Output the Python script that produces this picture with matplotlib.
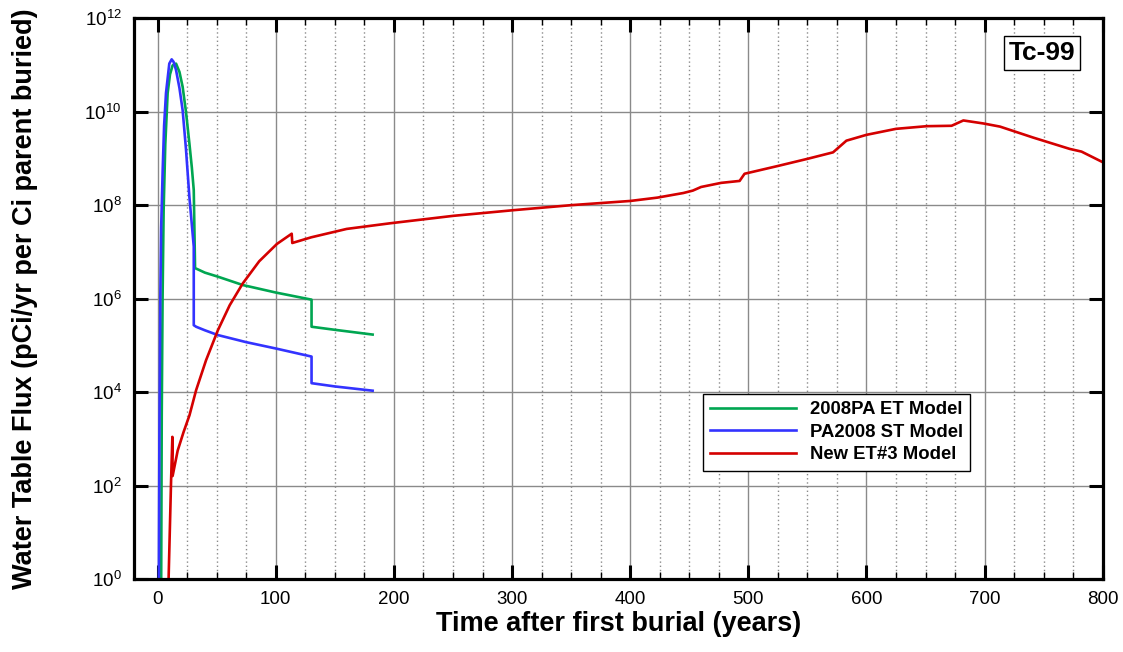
import math
import matplotlib
matplotlib.use("Agg")
import matplotlib.pyplot as plt
from matplotlib.ticker import FixedLocator, MultipleLocator, NullLocator, FuncFormatter

plt.rcParams['font.family'] = ['Liberation Sans', 'DejaVu Sans']
plt.rcParams['mathtext.fontset'] = 'custom'
plt.rcParams['mathtext.rm'] = 'Liberation Sans'
plt.rcParams['mathtext.it'] = 'Liberation Sans:italic'
plt.rcParams['mathtext.bf'] = 'Liberation Sans:bold'

# 2008PA ET Model
et_years = [2.9, 3.5, 4.2, 5.1, 6.5, 8.5, 10.5, 12.7, 15.6, 18.5, 21.2, 24, 26.9, 29,
            30.6, 31.7, 40, 51, 72.2, 100, 130.3, 130.3, 150, 182]
et_flux = [1e-1, 3.2e3, 1e6, 7.8e7, 2e9, 2.5e10, 6.3e10, 9.8e10, 1.07e11, 7.1e10, 3.4e10,
           1e10, 2.1e9, 6.3e8, 2.1e8, 4.5e6, 3.6e6, 2.95e6, 1.95e6, 1.35e6, 9.5e5,
           2.5e5, 2.15e5, 1.7e5]

# PA2008 ST Model
st_years = [0.9, 1.5, 2.3, 3.0, 4.3, 5.5, 7.1, 9.9, 11.9, 13.5, 15.6, 18.5, 21.2, 24, 26.9,
            30.6, 30.6, 32.6, 40, 51, 75, 100.6, 130.3, 130.3, 150, 182]
st_flux = [1e-1, 1e3, 1.1e6, 3.2e7, 5.6e8, 5.0e9, 2.5e10, 1.07e11, 1.32e11, 1.17e11, 7.8e10,
           3.2e10, 1.07e10, 1.6e9, 1.5e8, 1.3e7, 2.7e5, 2.5e5, 2.1e5, 1.66e5, 1.17e5,
           8.5e4, 5.75e4, 1.55e4, 1.32e4, 1.07e4]

# New ET#3 Model
new_years = [9.0, 11.4, 12.5, 12.7, 17, 22, 27, 32.6, 41, 51, 61, 72, 86, 101, 113.5, 114,
             130, 160, 197, 250, 301, 350, 400, 423, 445, 453, 460, 477, 492.6, 496.8, 525,
             550, 571.7, 583, 600, 625, 651, 672, 682, 699, 713, 741, 772, 782, 800]
new_flux = [0.5, 1.26e2, 1.1e3, 1.6e2, 5.6e2, 1.4e3, 3.2e3, 1.1e4, 4.8e4, 2.1e5, 7.2e5,
            2.1e6, 6.3e6, 1.48e7, 2.45e7, 1.55e7, 2.05e7, 3.1e7, 4.1e7, 5.9e7, 7.8e7,
            1.0e8, 1.23e8, 1.45e8, 1.82e8, 2.05e8, 2.45e8, 3.0e8, 3.3e8, 4.7e8, 6.9e8,
            9.8e8, 1.35e9, 2.4e9, 3.2e9, 4.3e9, 4.9e9, 5.0e9, 6.5e9, 5.6e9, 4.8e9,
            2.8e9, 1.6e9, 1.4e9, 8.3e8]

y_ticks = [1e0, 1e2, 1e4, 1e6, 1e8, 1e10, 1e12]

fig = plt.figure(figsize=(11.23, 6.52), dpi=100)
ax = fig.add_axes([0.1193, 0.112, 0.8627, 0.860])

ax.plot(et_years, et_flux, color='#00a651', lw=1.9, label='2008PA ET Model')
ax.plot(st_years, st_flux, color='#3333ff', lw=1.9, label='PA2008 ST Model')
ax.plot(new_years, new_flux, color='#d40000', lw=1.9, label='New ET#3 Model')

ax.set_yscale('log')
ax.set_xlim(-20, 800)
ax.set_ylim(1e0, 1e12)

ax.xaxis.set_major_locator(MultipleLocator(100))
ax.xaxis.set_minor_locator(MultipleLocator(25))
ax.yaxis.set_major_locator(FixedLocator(y_ticks))
ax.yaxis.set_minor_locator(NullLocator())
ax.yaxis.set_major_formatter(FuncFormatter(lambda v, p: r'$\mathdefault{10^{%d}}$' % round(math.log10(v))))

ax.grid(which='major', color='#8a8a8a', lw=1.0, ls='-')
ax.grid(which='minor', axis='x', color='#8a8a8a', lw=1.0, ls=(0, (1, 2)))
ax.set_axisbelow(True)

ax.tick_params(which='major', direction='in', length=10, width=2.2, top=True, right=True,
               labelsize=13.5, pad=9)
ax.tick_params(which='minor', direction='in', length=5, width=1, top=True, right=True)
for s in ax.spines.values():
    s.set_linewidth(2.3)

ax.set_xlabel('Time after first burial (years)', fontsize=19.5, fontweight='bold')
ax.set_ylabel('Water Table Flux (pCi/yr per Ci parent buried)', fontsize=19.5, fontweight='bold')
ax.xaxis.set_label_coords(0.5, -0.057)
ax.yaxis.set_label_coords(-0.099, 0.5)

ax.text(0.937, 0.938, 'Tc-99', transform=ax.transAxes, fontsize=19, fontweight='bold',
        ha='center', va='center',
        bbox=dict(boxstyle='square,pad=0.18', fc='white', ec='black', lw=1))

leg = ax.legend(loc='upper left', bbox_to_anchor=(0.587, 0.33),
                prop={'weight': 'bold', 'size': 13.3}, handlelength=4.65, handletextpad=0.75,
                labelspacing=0.3, fancybox=False, framealpha=1, edgecolor='black',
                borderpad=0.4, borderaxespad=0)
leg.get_frame().set_linewidth(1)

fig.savefig('out.png', dpi=100)
